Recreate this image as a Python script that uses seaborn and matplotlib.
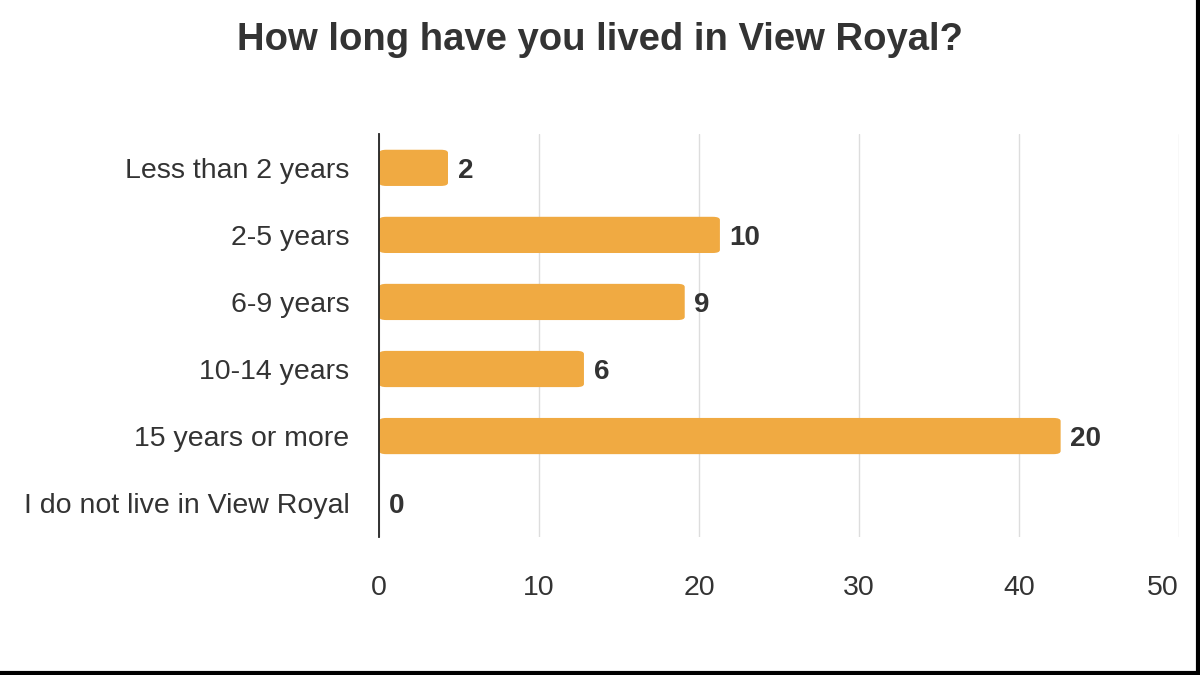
import matplotlib
matplotlib.use("Agg")
import matplotlib.pyplot as plt
from matplotlib.patches import FancyBboxPatch
from matplotlib.lines import Line2D
import seaborn as sns
import pandas as pd

# Survey answers, bar length = share of responses (%), label = count
categories = ["Less than 2 years", "2-5 years", "6-9 years", "10-14 years",
              "15 years or more", "I do not live in View Royal"]
percent = [4.3, 21.3, 19.1, 12.8, 42.6, 0.0]
counts = [2, 10, 9, 6, 20, 0]
x_ticks = [0, 10, 20, 30, 40, 50]

df = pd.DataFrame({"category": categories, "percent": percent, "count": counts})

sns.set_theme(style="white")
plt.rcParams["font.family"] = ["Liberation Sans", "DejaVu Sans"]

bar_color = "#F0AA42"
text_color = "#333333"

fig = plt.figure(figsize=(12, 6.75), dpi=100)
ax = fig.add_axes([0.316, 0.205, 0.6665, 0.596])

sns.barplot(data=df, x="percent", y="category", color=bar_color,
            width=0.54, saturation=1, ax=ax)

# swap plain bars for rounded ones
for p in list(ax.patches):
    x0, y0 = p.get_x(), p.get_y()
    w, h = p.get_width(), p.get_height()
    p.set_visible(False)
    if w <= 0:
        continue
    rb = FancyBboxPatch((x0, y0), w, h,
                        boxstyle="round,pad=0,rounding_size=0.45",
                        mutation_aspect=h / 0.45 * 0.5 * 0.17,
                        facecolor=bar_color, edgecolor="none", zorder=2)
    ax.add_patch(rb)

for i, (v, c) in enumerate(zip(percent, counts)):
    ax.text(v + 0.6, i, str(c), va="center_baseline", ha="left", fontsize=20,
            fontweight="bold", color=text_color)

ax.set_xlim(0, 50)
ax.set_ylim(5.5, -0.5)
ax.set_xticks(x_ticks)
ax.xaxis.grid(True, color="#dddddd", linewidth=1)
ax.set_axisbelow(True)
for s in ["top", "right", "bottom"]:
    ax.spines[s].set_visible(False)
ax.spines["left"].set_color("#222222")
ax.spines["left"].set_linewidth(1.3)
ax.spines["left"].set_zorder(3)
ax.set_xlabel("")
ax.set_ylabel("")
ax.tick_params(axis="x", length=0, pad=27.5, labelsize=20.5, labelcolor=text_color)
ax.tick_params(axis="y", length=0, pad=21.5, labelsize=20.5, labelcolor=text_color)
# last x label sits flush against the 50 gridline
ax.get_xticklabels()[-1].set_horizontalalignment("right")

fig.text(0.5, 0.94, "How long have you lived in View Royal?", ha="center",
         va="center", fontsize=27.5, fontweight="bold", color=text_color)

# frame lines on the right and bottom edges
fig.add_artist(Line2D([0, 1], [0.003, 0.003], color="black", linewidth=3,
                      transform=fig.transFigure))
fig.add_artist(Line2D([0.998, 0.998], [0, 1], color="black", linewidth=3,
                      transform=fig.transFigure))

fig.savefig("out.png", dpi=100, facecolor="white")
